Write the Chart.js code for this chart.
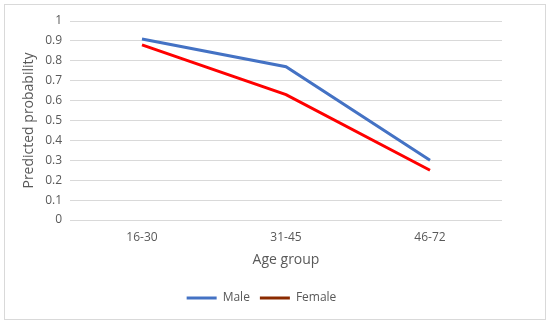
<!DOCTYPE html>
<html>
<head>
<meta charset="utf-8">
<script src="https://cdn.jsdelivr.net/npm/chart.js@4.4.0/dist/chart.umd.min.js"></script>
<style>
  html, body { margin: 0; padding: 0; background: #ffffff; }
  #wrap { width: 550px; height: 324px; position: relative; }
</style>
</head>
<body>
<div id="wrap"><canvas id="probChart" width="550" height="324"></canvas></div>
<script>
var ageGroups = ["16-30", "31-45", "46-72"];
var maleValues = [0.91, 0.77, 0.30];
var femaleValues = [0.88, 0.63, 0.25];
var yTicks = [0, 0.1, 0.2, 0.3, 0.4, 0.5, 0.6, 0.7, 0.8, 0.9, 1];

// frame around the whole chart, like the exported office chart
const framePlugin = {
  id: 'chartFrame',
  beforeDraw: (chart) => {
    const {ctx} = chart;
    ctx.save();
    ctx.fillStyle = '#ffffff';
    ctx.fillRect(0, 0, chart.width, chart.height);
    ctx.strokeStyle = '#d9d9d9';
    ctx.lineWidth = 1;
    ctx.strokeRect(4.5, 4.5, chart.width - 9, chart.height - 9);
    ctx.restore();
  }
};

var legendColors = { Male: '#4472c4', Female: '#8b2a00' };

new Chart(document.getElementById("probChart"), {
  type: "line",
  data: {
    labels: ageGroups,
    datasets: [{
      label: "Male",
      data: maleValues,
      borderColor: "#4472c4",
      backgroundColor: "#4472c4",
      borderWidth: 3,
      pointRadius: 0,
      tension: 0
    }, {
      label: "Female",
      data: femaleValues,
      borderColor: "#ff0000",
      backgroundColor: "#ff0000",
      borderWidth: 3,
      pointRadius: 0,
      tension: 0
    }]
  },
  options: {
    responsive: false,
    animation: false,
    layout: { padding: { left: 21, right: 48, top: 21, bottom: 10 } },
    plugins: {
      legend: {
        position: 'bottom',
        labels: {
          font: { family: "Open Sans", size: 12 },
          color: '#595959',
          usePointStyle: true,
          pointStyle: 'line',
          pointStyleWidth: 30,
          boxWidth: 30,
          padding: 10,
          generateLabels: (chart) => chart.data.datasets.map((ds, i) => ({
            text: ds.label,
            fillStyle: legendColors[ds.label],
            strokeStyle: legendColors[ds.label],
            lineWidth: 3,
            pointStyle: 'line',
            fontColor: '#595959',
            datasetIndex: i
          }))
        }
      },
      tooltip: { enabled: false }
    },
    scales: {
      x: {
        offset: true,
        grid: { display: false },
        border: { display: false },
        ticks: { color: '#595959', font: { family: "Open Sans", size: 12 }, padding: 2 },
        title: {
          display: true,
          text: "Age group",
          color: '#595959',
          font: { family: "Open Sans", size: 14 },
          padding: { top: 2, bottom: 14 }
        },
        afterFit: (scale) => { scale.height = 62; }
      },
      y: {
        min: 0,
        max: 1,
        afterBuildTicks: (scale) => { scale.ticks = yTicks.map(v => ({ value: v })); },
        grid: { color: '#d9d9d9', drawTicks: false, lineWidth: 1 },
        border: { display: false },
        ticks: {
          color: '#595959',
          font: { family: "Open Sans", size: 12 },
          padding: 8,
          callback: (v) => String(Math.round(v * 10) / 10)
        },
        title: {
          display: true,
          text: "Predicted probability",
          color: '#595959',
          font: { family: "Open Sans", size: 14 },
          padding: { top: 0, bottom: 4 }
        },
        afterFit: (scale) => { scale.width = 49; }
      }
    }
  },
  plugins: [framePlugin]
});
</script>
</body>
</html>
